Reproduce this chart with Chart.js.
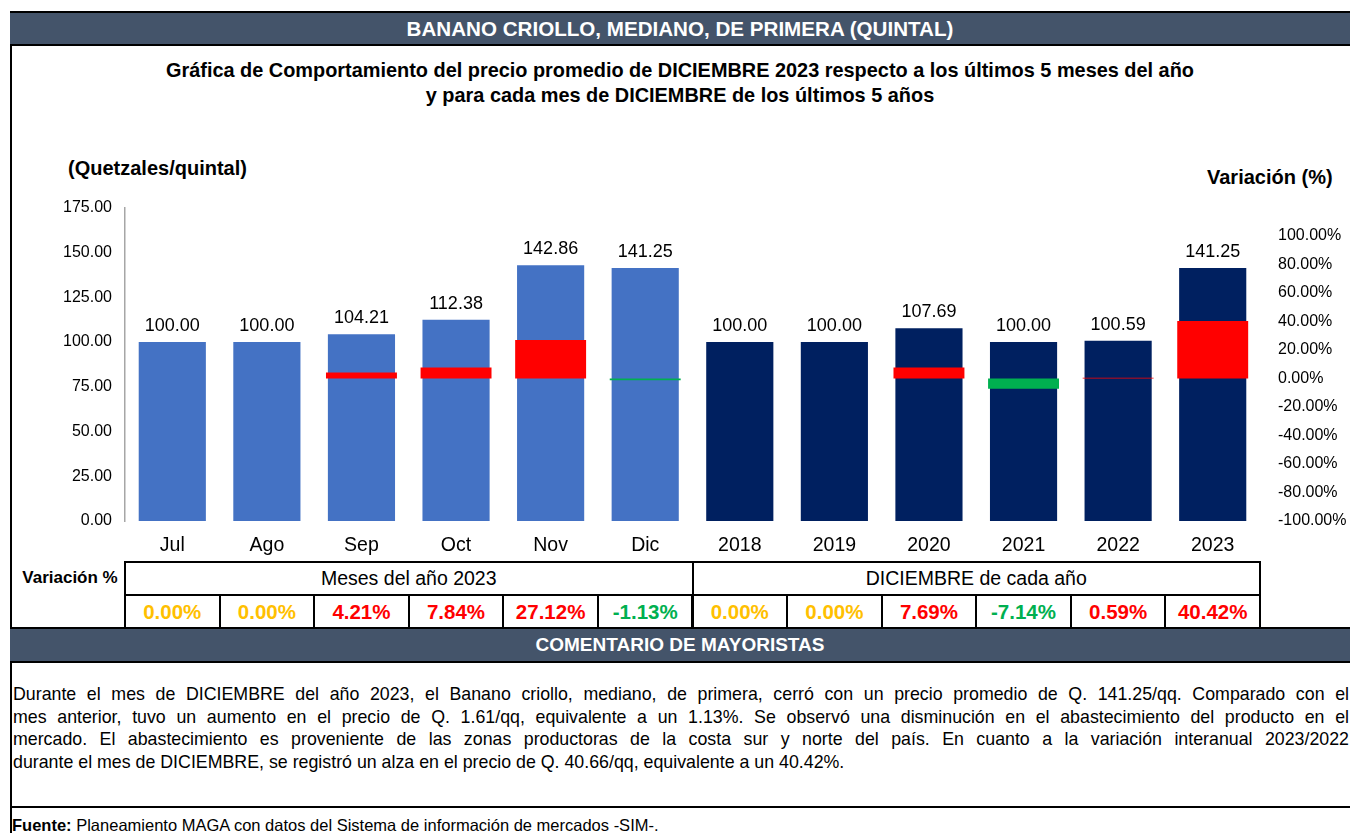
<!DOCTYPE html>
<html>
<head>
<meta charset="utf-8">
<script src="https://cdn.jsdelivr.net/npm/chart.js@4.4.0/dist/chart.umd.min.js"></script>
<style>
  body { margin: 0; background: #fff; font-family: "Liberation Sans", Arial, sans-serif; color: #000; }
  #page { position: relative; width: 1350px; height: 833px; overflow: hidden; }
  .abs { position: absolute; }
  .bar { background: #44546A; color: #fff; font-weight: bold; text-align: center; border-top: 2px solid #000; border-bottom: 2px solid #000; box-sizing: border-box; }
  .title { left: 10px; width: 1340px; text-align: center; font-weight: bold; font-size: 19.9px; }
  .cell { position: absolute; box-sizing: border-box; border: 2px solid #000; text-align: center; font-size: 19.5px; }
  #coment span { display: block; text-align: justify; text-align-last: justify; }
  #coment span.last { text-align-last: left; }
</style>
</head>
<body>
<div id="page">
  <div class="abs" style="left:10px;top:12px;width:2px;height:821px;background:#000"></div>
  <div class="abs bar" style="left:10px;top:11px;width:1340px;height:35px;line-height:31px;font-size:20.6px">BANANO CRIOLLO, MEDIANO, DE PRIMERA (QUINTAL)</div>
  <div class="abs title" style="top:59px">Gráfica de Comportamiento del precio promedio de DICIEMBRE 2023 respecto a los últimos 5 meses del año</div>
  <div class="abs title" style="top:84px">y para cada mes de DICIEMBRE de los últimos 5 años</div>
  <div class="abs" style="left:68px;top:157px;font-weight:bold;font-size:20px">(Quetzales/quintal)</div>
  <div class="abs" style="left:1207px;top:166px;font-weight:bold;font-size:20px">Variación (%)</div>

  <div class="abs" style="left:10px;top:180px;width:1340px;height:380px">
    <canvas id="grafica"></canvas>
  </div>

  <div id="tabla"></div>
  <div class="abs" style="left:12px;top:568px;width:116px;text-align:center;font-weight:bold;font-size:17px">Variación %</div>

  <div class="abs bar" style="left:10px;top:627px;width:1340px;height:36px;line-height:32px;font-size:19px">COMENTARIO DE MAYORISTAS</div>

  <div id="coment" class="abs" style="left:13px;top:683px;width:1336px;font-size:17.8px;line-height:22.7px">
    <span>Durante el mes de DICIEMBRE del año 2023, el Banano criollo, mediano, de primera, cerró con un precio promedio de Q. 141.25/qq. Comparado con el</span>
    <span>mes anterior, tuvo un aumento en el precio de Q. 1.61/qq, equivalente a un 1.13%. Se observó una disminución en el abastecimiento del producto en el</span>
    <span>mercado. El abastecimiento es proveniente de las zonas productoras de la costa sur y norte del país. En cuanto a la variación interanual 2023/2022</span>
    <span class="last">durante el mes de DICIEMBRE, se registró un alza en el precio de Q. 40.66/qq, equivalente a un 40.42%.</span>
  </div>
  <div class="abs" style="left:10px;top:806px;width:1340px;height:2px;background:#000"></div>
  <div class="abs" style="left:12px;top:816px;font-size:16.5px"><b>Fuente:</b> Planeamiento MAGA con datos del Sistema de información de mercados -SIM-.</div>
</div>

<script>
let categorias = ["Jul", "Ago", "Sep", "Oct", "Nov", "Dic", "2018", "2019", "2020", "2021", "2022", "2023"];
let precios = [100.00, 100.00, 104.21, 112.38, 142.86, 141.25, 100.00, 100.00, 107.69, 100.00, 100.59, 141.25];
let variaciones = [0.00, 0.00, 4.21, 7.84, 27.12, -1.13, 0.00, 0.00, 7.69, -7.14, 0.59, 40.42];
let grupos = ["Meses del año 2023", "DICIEMBRE de cada año"];

let coloresPrecio = categorias.map((c, i) => i < 6 ? "#4472C4" : "#002060");
let coloresVar = variaciones.map(v => v > 0 ? "#FF0000" : (v < 0 ? "#00B050" : "#FFC000"));
let fuente = "'Liberation Sans', Arial, sans-serif";

// tabla de variaciones debajo de la grafica
let tabla = document.getElementById("tabla");
let x0 = 125, ancho = 1135 / 12;
grupos.forEach((g, i) => {
    let d = document.createElement("div");
    d.className = "cell";
    d.style.left = (x0 + i * 6 * ancho - 1) + "px";
    d.style.top = "561px";
    d.style.width = (6 * ancho + 2) + "px";
    d.style.height = "35px";
    d.style.lineHeight = "31px";
    d.textContent = g;
    tabla.appendChild(d);
});
variaciones.forEach((v, i) => {
    let d = document.createElement("div");
    d.className = "cell";
    d.style.left = (x0 + i * ancho - 1) + "px";
    d.style.top = "594px";
    d.style.width = (ancho + 2) + "px";
    d.style.height = "35px";
    d.style.lineHeight = "31px";
    d.style.fontWeight = "bold";
    d.style.fontSize = "20.5px";
    d.style.color = coloresVar[i];
    d.textContent = v.toFixed(2) + "%";
    tabla.appendChild(d);
});

let etiquetas = {
    id: "etiquetas",
    afterDatasetsDraw(chart) {
        let ctx = chart.ctx;
        let meta = chart.getDatasetMeta(1);
        ctx.save();
        ctx.font = "18px " + fuente;
        ctx.fillStyle = "#000";
        ctx.textAlign = "center";
        ctx.textBaseline = "bottom";
        meta.data.forEach((bar, i) => {
            ctx.fillText(precios[i].toFixed(2), bar.x, bar.y - 7);
        });
        ctx.restore();
    }
};

let config = {
    type: "bar",
    data: {
        labels: categorias,
        datasets: [{
            label: "Variación",
            data: variaciones.map(v => v / 100),
            backgroundColor: coloresVar,
            yAxisID: "y2",
            grouped: false,
            order: 0,
            barPercentage: 0.75,
            categoryPercentage: 1
        }, {
            label: "Precio",
            data: precios,
            backgroundColor: coloresPrecio,
            yAxisID: "y",
            grouped: false,
            order: 1,
            barPercentage: 0.71,
            categoryPercentage: 1
        }]
    },
    options: {
        responsive: true,
        maintainAspectRatio: false,
        animation: false,
        layout: { padding: 0 },
        plugins: { legend: { display: false }, tooltip: { enabled: false } },
        scales: {
            x: {
                grid: { display: false, drawTicks: false },
                border: { display: false },
                ticks: { color: "#000", font: { family: fuente, size: 19.5 }, padding: 13 },
                afterFit(s) { s.height = 39; }
            },
            y: {
                position: "left",
                min: 0, max: 175,
                grid: { display: false, drawTicks: true, tickLength: 5, tickColor: "#A6A6A6" },
                border: { display: true, color: "#A6A6A6", width: 1.5 },
                ticks: { stepSize: 25, color: "#000", font: { family: fuente, size: 16 }, padding: 8,
                    callback: v => v.toFixed(2) },
                afterFit(s) { s.width = 115; }
            },
            y2: {
                position: "right",
                min: -1, max: 1.2,
                grid: { display: false, drawTicks: false },
                border: { display: false },
                ticks: { stepSize: 0.2, color: "#000", font: { family: fuente, size: 16 }, padding: 18,
                    callback: v => (v * 100).toFixed(2) + "%" },
                afterBuildTicks(s) { s.ticks = s.ticks.filter(t => t.value <= 1.0001); },
                afterFit(s) { s.width = 90; }
            }
        }
    },
    plugins: [etiquetas]
};

let ctx = document.getElementById("grafica").getContext("2d");
let myChart = new Chart(ctx, config);
</script>
</body>
</html>
